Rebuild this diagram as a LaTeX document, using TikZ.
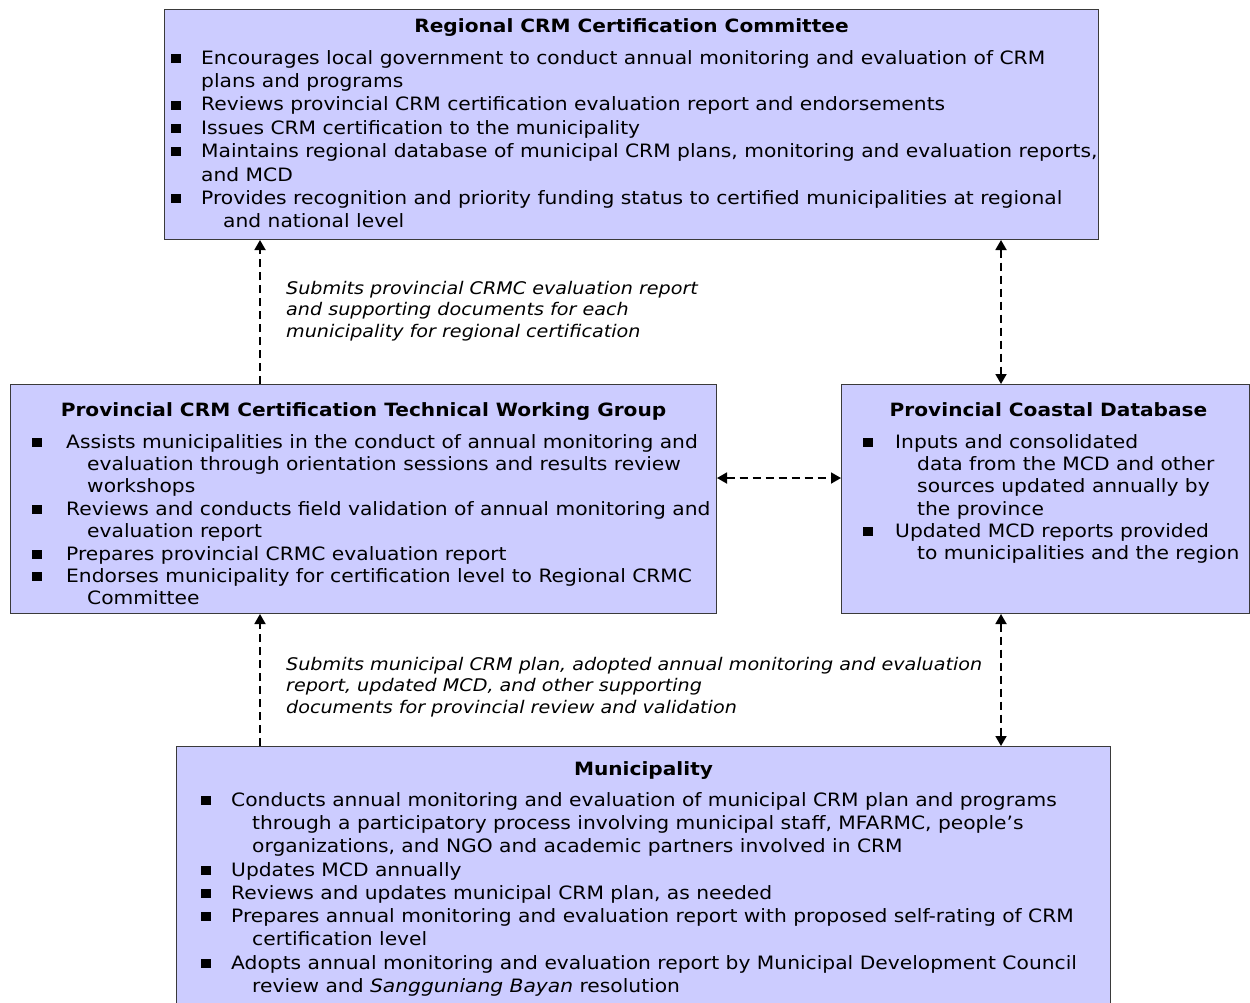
\documentclass[tikz,border=0pt]{standalone}
\usepackage{fontspec}
\setmainfont[FakeStretch=1.1]{DejaVu Sans}
\usetikzlibrary{arrows.meta}

% square bullet and its column
\newcommand{\bsq}{\rule[1.3pt]{9.5pt}{9pt}}
\newcommand{\itm}[1]{\makebox[#1][l]{\bsq}}

\definecolor{boxfill}{HTML}{CCCCFF}
\definecolor{boxline}{HTML}{3A3A3A}

\tikzset{
  panel/.style={draw=boxline, line width=1pt, fill=boxfill, anchor=north west, inner sep=0pt},
  heading/.style={font=\fontsize{18.3}{22}\selectfont\bfseries, inner sep=0pt, anchor=center},
  body/.style={align=left, inner sep=0pt, anchor=north west},
  note/.style={align=left, inner sep=0pt, anchor=north west, font=\fontsize{17.4}{21.5}\selectfont\itshape},
  tip/.style={Triangle[length=10pt,width=11pt]},
  conn/.style={line width=1.8pt, dash pattern=on 8pt off 5pt, -{Triangle[length=10pt,width=11pt]}},
  conn2/.style={conn, {Triangle[length=10pt,width=11pt]}-{Triangle[length=10pt,width=11pt]}}
}

\begin{document}
\begin{tikzpicture}[x=1pt, y=-1pt]
\useasboundingbox (0,0) rectangle (1250,1002);
\clip (0,0) rectangle (1250,1002);

% ---- boxes ----
\node[panel, minimum width=934pt, minimum height=230pt] (reg) at (164,9) {};
\node[panel, minimum width=706pt, minimum height=229pt] (twg) at (10,384) {};
\node[panel, minimum width=408pt, minimum height=229pt] (pcd) at (841,384) {};
\node[panel, minimum width=934pt, minimum height=270pt] (mun) at (176,746) {};

% ---- headings ----
\node[heading] (regt) at ([yshift=-19pt]reg.north) {Regional CRM Certification Committee};
\node[heading] (twgt) at ([yshift=-28pt]twg.north) {Provincial CRM Certification Technical Working Group};
\node[heading] (pcdt) at ([xshift=3pt,yshift=-26pt]pcd.north) {Provincial Coastal Database};
\node[heading] (munt) at ([yshift=-25pt]mun.north) {Municipality};

% ---- bullet lists ----
\node[body, font=\fontsize{18.4}{23.4}\selectfont] (regb) at (171,50) {%
\itm{30pt}Encourages local government to conduct annual monitoring and evaluation of CRM\\
\hspace*{30pt}plans and programs\\
\itm{30pt}Reviews provincial CRM certification evaluation report and endorsements\\
\itm{30pt}Issues CRM certification to the municipality\\
\itm{30pt}Maintains regional database of municipal CRM plans, monitoring and evaluation reports,\\
\hspace*{30pt}and MCD\\
\itm{30pt}Provides recognition and priority funding status to certified municipalities at regional\\
\hspace*{52pt}and national level};

\node[body, font=\fontsize{18.4}{22.4}\selectfont] (twgb) at (32,434) {%
\itm{34pt}Assists municipalities in the conduct of annual monitoring and\\
\hspace*{55pt}evaluation through orientation sessions and results review\\
\hspace*{55pt}workshops\\
\itm{34pt}Reviews and conducts field validation of annual monitoring and\\
\hspace*{55pt}evaluation report\\
\itm{34pt}Prepares provincial CRMC evaluation report\\
\itm{34pt}Endorses municipality for certification level to Regional CRMC\\
\hspace*{55pt}Committee};

\node[body, font=\fontsize{18.4}{22.3}\selectfont] (pcdb) at (863,434) {%
\itm{32pt}Inputs and consolidated\\
\hspace*{54pt}data from the MCD and other\\
\hspace*{54pt}sources updated annually by\\
\hspace*{54pt}the province\\
\itm{32pt}Updated MCD reports provided\\
\hspace*{54pt}to municipalities and the region};

\node[body, font=\fontsize{18.4}{23.3}\selectfont] (munb) at (201,792) {%
\itm{30pt}Conducts annual monitoring and evaluation of municipal CRM plan and programs\\
\hspace*{51pt}through a participatory process involving municipal staff, MFARMC, people’s\\
\hspace*{51pt}organizations, and NGO and academic partners involved in CRM\\
\itm{30pt}Updates MCD annually\\
\itm{30pt}Reviews and updates municipal CRM plan, as needed\\
\itm{30pt}Prepares annual monitoring and evaluation report with proposed self-rating of CRM\\
\hspace*{51pt}certification level\\
\itm{30pt}Adopts annual monitoring and evaluation report by Municipal Development Council\\
\hspace*{51pt}review and \textit{Sangguniang Bayan} resolution};

% ---- connector labels ----
\node[note] (lab1) at (286,281) {Submits provincial CRMC evaluation report\\
and supporting documents for each\\
municipality for regional certification};
\node[note] (lab2) at (286,657) {Submits municipal CRM plan, adopted annual monitoring and evaluation\\
report, updated MCD, and other supporting\\
documents for provincial review and validation};

% ---- connectors ----
\coordinate (cl) at (260,0);
\coordinate (cr) at (1001,0);
\coordinate (ch) at (0,478);
\draw[conn] (twg.north -| cl) -- (reg.south -| cl);
\draw[conn] (mun.north -| cl) -- (twg.south -| cl);
\draw[conn2] (reg.south -| cr) -- (pcd.north -| cr);
\draw[conn2] (pcd.south -| cr) -- (mun.north -| cr);
\draw[conn2] (twg.east |- ch) -- (pcd.west |- ch);
\end{tikzpicture}
\end{document}
